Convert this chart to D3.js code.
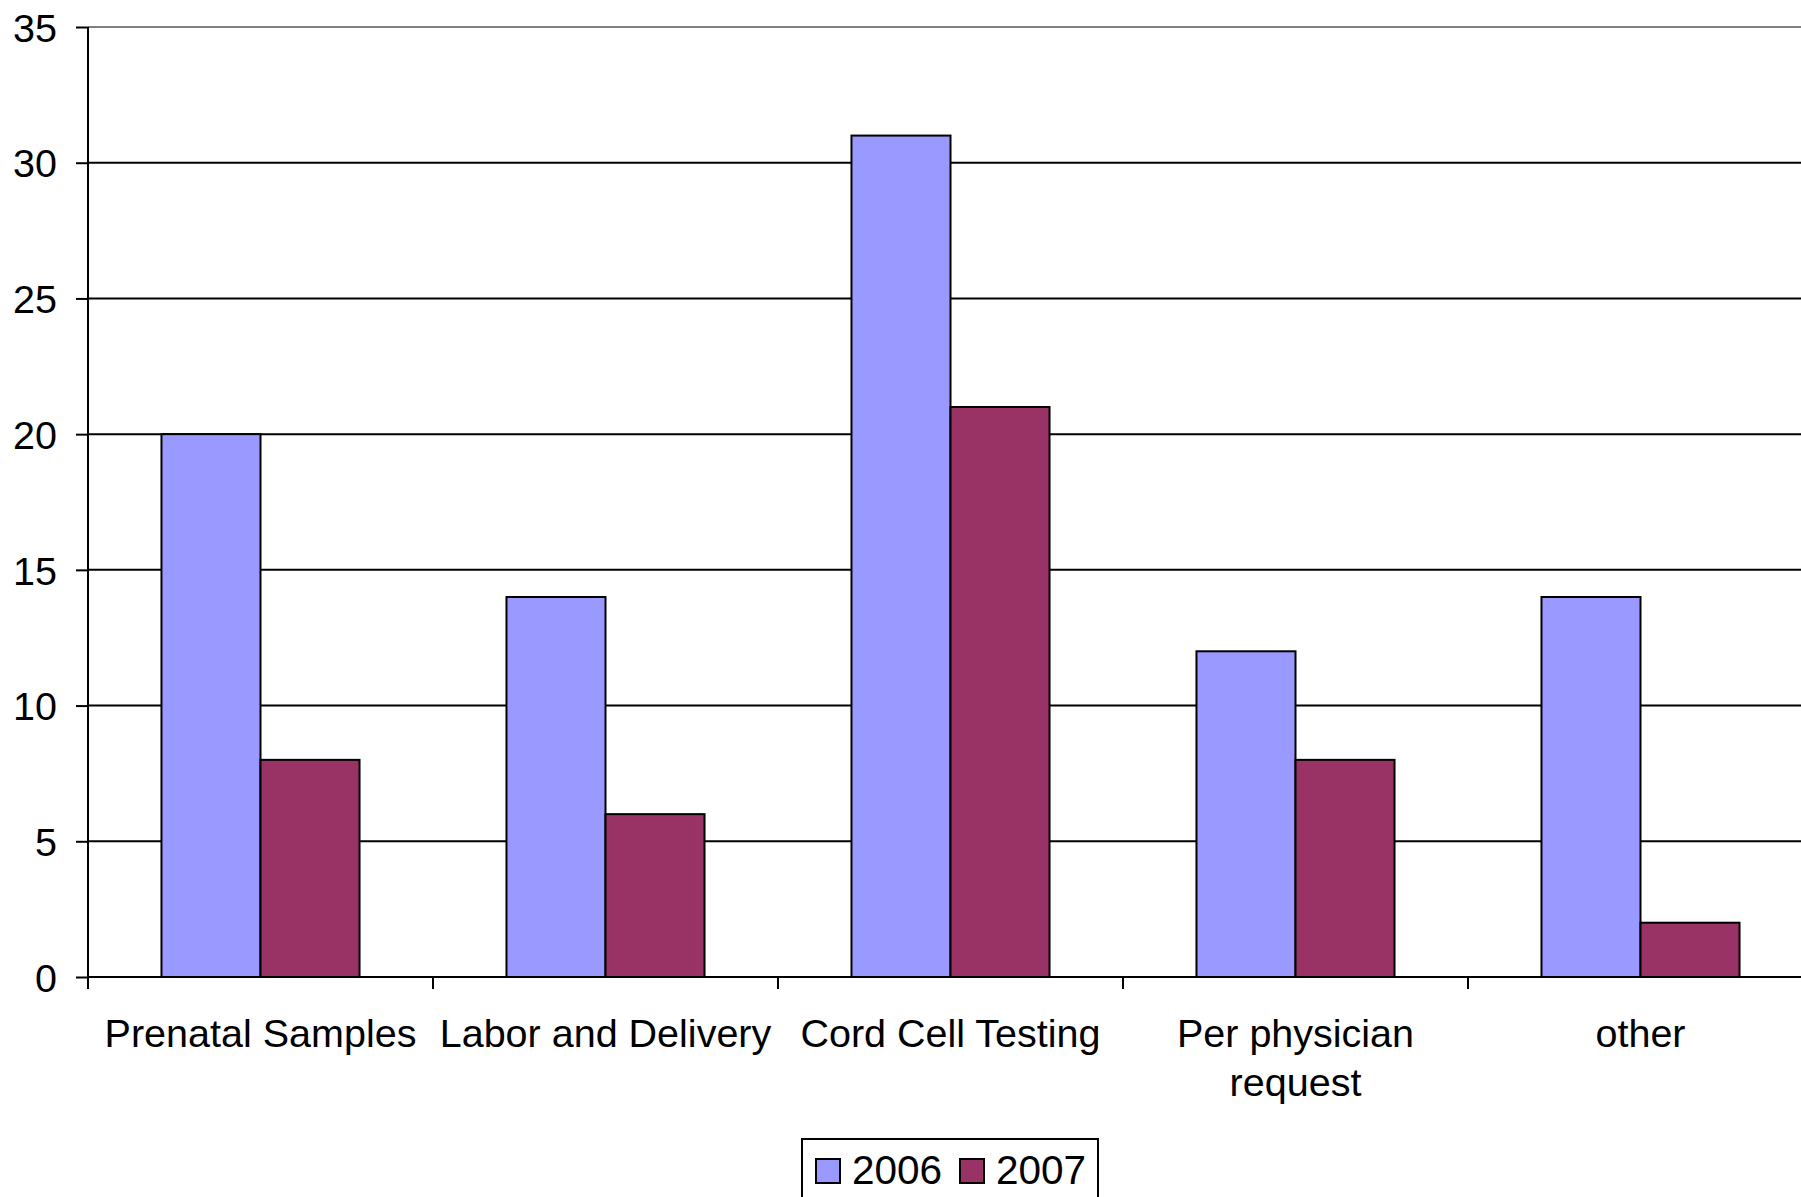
<!DOCTYPE html>
<html>
<head>
<meta charset="utf-8">
<script src="https://cdn.jsdelivr.net/npm/d3@7"></script>
<style>
  html, body { margin: 0; padding: 0; background: #fff; }
  svg { display: block; font-family: "Liberation Sans", Arial, sans-serif; }
</style>
</head>
<body>
<svg id="chart" width="1801" height="1197"></svg>
<script>
const categories = ["Prenatal Samples", "Labor and Delivery", "Cord Cell Testing", "Per physician request", "other"];
const categoryLines = [["Prenatal Samples"], ["Labor and Delivery"], ["Cord Cell Testing"], ["Per physician", "request"], ["other"]];
const seriesNames = ["2006", "2007"];
const values2006 = [20, 14, 31, 12, 14];
const values2007 = [8, 6, 21, 8, 2];
const yTicks = [0, 5, 10, 15, 20, 25, 30, 35];
const colors = ["#9999FF", "#993366"];

(function () {
const seriesValues = [values2006, values2007];
const svg = d3.select("#chart");
const plotLeft = 88, plotTop = 27, plotBottom = 977, step = 345;
const fontSize = 39.5;

const x = d3.scaleBand().domain(categories).range([plotLeft, plotLeft + step * categories.length]).padding(0);
const xs = d3.scaleBand().domain(seriesNames).range([0, x.bandwidth()]).paddingInner(0).paddingOuter(0.742);
const y = d3.scaleLinear().domain([0, 35]).range([plotBottom, plotTop]);

// gridlines
svg.append("g").selectAll("line").data(yTicks.filter(d => d > 0)).join("line")
  .attr("x1", plotLeft).attr("x2", 1801)
  .attr("y1", d => y(d)).attr("y2", d => y(d))
  .attr("stroke", d => d === 35 ? "#808080" : "#000")
  .attr("stroke-width", 2);

// bars
const groups = svg.append("g").selectAll("g").data(categories).join("g")
  .attr("transform", d => `translate(${x(d)},0)`);
groups.selectAll("rect").data((d, i) => seriesNames.map((s, j) => ({ s, v: seriesValues[j][i], j })))
  .join("rect")
  .attr("x", d => xs(d.s))
  .attr("width", xs.bandwidth())
  .attr("y", d => y(d.v))
  .attr("height", d => y(0) - y(d.v))
  .attr("fill", d => colors[d.j])
  .attr("stroke", "#000")
  .attr("stroke-width", 2);

// y axis
const yAxis = d3.axisLeft(y).tickValues(yTicks).tickSize(12).tickPadding(19).tickFormat(d3.format("d"));
const gy = svg.append("g").attr("transform", `translate(${plotLeft},0)`).call(yAxis);
gy.select(".domain").attr("stroke", "#000").attr("stroke-width", 2).attr("d", `M0,${plotTop}V${plotBottom}`);
gy.selectAll(".tick line").attr("stroke", "#000").attr("stroke-width", 2);
gy.selectAll(".tick text").attr("font-size", fontSize).attr("font-family", "Liberation Sans, Arial, sans-serif").attr("fill", "#000").attr("dy", "0.36em");

// x axis line
svg.append("line").attr("x1", plotLeft).attr("x2", 1801).attr("y1", plotBottom).attr("y2", plotBottom)
  .attr("stroke", "#000").attr("stroke-width", 2);
// x ticks at band boundaries
svg.append("g").selectAll("line").data(categories).join("line")
  .attr("x1", d => x(d)).attr("x2", d => x(d))
  .attr("y1", plotBottom).attr("y2", plotBottom + 12)
  .attr("stroke", "#000").attr("stroke-width", 2);

// x labels
const xl = svg.append("g").selectAll("text").data(categories).join("text")
  .attr("x", d => x(d) + x.bandwidth() / 2)
  .attr("y", 1047)
  .attr("text-anchor", "middle")
  .attr("font-size", fontSize)
  .attr("fill", "#000");
xl.selectAll("tspan").data((d, i) => categoryLines[i]).join("tspan")
  .attr("x", function () { return d3.select(this.parentNode).attr("x"); })
  .attr("dy", (d, i) => i === 0 ? 0 : 49)
  .text(d => d);

// legend
const lg = svg.append("g");
lg.append("rect").attr("x", 802).attr("y", 1139).attr("width", 296).attr("height", 80)
  .attr("fill", "#fff").attr("stroke", "#000").attr("stroke-width", 2);
const legendX = [816, 960];
seriesNames.forEach((s, i) => {
  lg.append("rect").attr("x", legendX[i]).attr("y", 1159).attr("width", 24).attr("height", 24)
    .attr("fill", colors[i]).attr("stroke", "#000").attr("stroke-width", 2);
  lg.append("text").attr("x", legendX[i] + 36).attr("y", 1184)
    .attr("font-size", 40.5).attr("fill", "#000").text(s);
});
})();
</script>
</body>
</html>
